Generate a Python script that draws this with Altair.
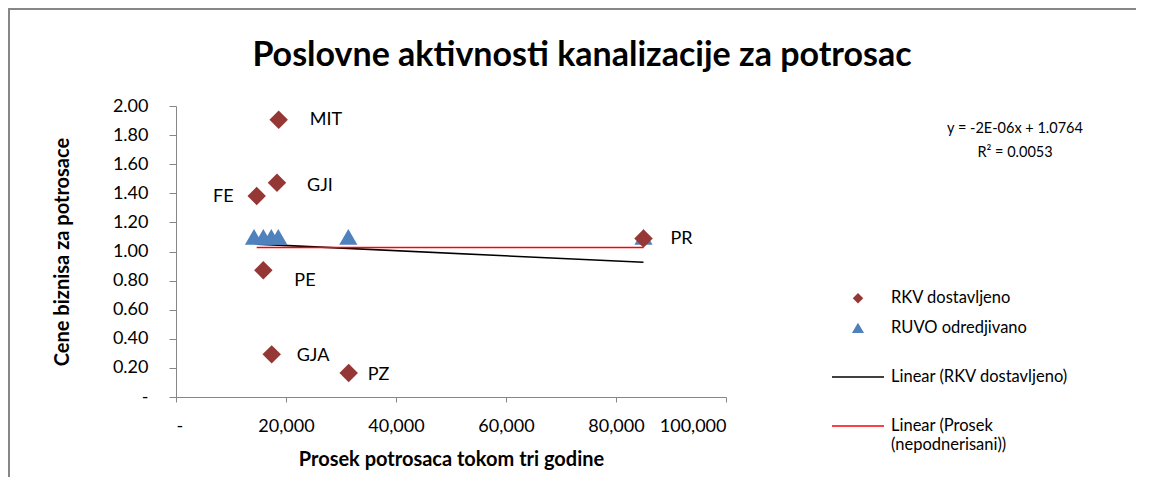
import altair as alt
import pandas as pd

# ---- data ----
rkv_labels = ["MIT", "GJI", "FE", "PE", "GJA", "PZ", "PR"]
rkv_x = [18670, 18360, 14670, 15880, 17400, 31400, 85000]
rkv_y = [1.906, 1.473, 1.381, 0.871, 0.293, 0.165, 1.09]

ruvo_x = [14180, 15880, 17330, 18600, 31330, 85000]
ruvo_y = [1.10, 1.10, 1.10, 1.10, 1.10, 1.10]

prosek_x = [14670, 85000]
prosek_y = [1.028, 1.028]

x_ticks = [0, 20000, 40000, 60000, 80000, 100000]
y_ticks = [0, 0.2, 0.4, 0.6, 0.8, 1.0, 1.2, 1.4, 1.6, 1.8, 2.0]

series_names = ["RKV dostavljeno", "RUVO odredjivano",
                "Linear (RKV dostavljeno)", "Linear (Prosek (nepodnerisani))"]
series_colors = ["#953735", "#4F81BD", "#000000", "#FF0000"]
series_shapes = ["diamond", "triangle-up", "stroke", "stroke"]
series_legend_sizes = [70, 90, 2704, 2704]

title_text = "Poslovne aktivnosti kanalizacije za potrosac"
equation_lines = ["y = -2E-06x + 1.0764", "R² = 0.0053"]

# label placement (dx, dy, align) per RKV point
label_dx = [31, 30, -23, 31, 25, 19, 27]
label_dy = [0, 3, 1, 11, 2, 2, 1]
label_align = ["left", "left", "right", "left", "left", "left", "left"]

FONT = "Lato"

rkv = pd.DataFrame({"x": rkv_x, "y": rkv_y, "label": rkv_labels})
ruvo = pd.DataFrame({"x": ruvo_x, "y": ruvo_y})
prosek = pd.DataFrame({"x": prosek_x, "y": prosek_y})
legend_df = pd.DataFrame({"series": series_names})

W, H = 550, 291

xscale = alt.Scale(domain=[0, 100000], nice=False, zero=True)
yscale = alt.Scale(domain=[0, 2.0], nice=False)

xaxis = alt.Axis(values=x_ticks, grid=False, title="Prosek potrosaca tokom tri godine",
                 labelExpr="datum.value == 0 ? '-' : format(datum.value, ',d')",
                 domainColor="#868686", tickColor="#868686", tickSize=5,
                 labelPadding=15, labelFontSize=18, labelFont=FONT, labelColor="#000",
                 titleFont=FONT, titleFontSize=20, titleFontWeight="bold",
                 titleColor="#000", titlePadding=14)
yaxis = alt.Axis(values=y_ticks, grid=False, title="Cene biznisa za potrosace",
                 labelExpr="datum.value == 0 ? '-' : format(datum.value, '.2f')",
                 domainColor="#868686", tickColor="#868686", tickSize=7,
                 labelPadding=21, labelFontSize=18, labelFont=FONT, labelColor="#000",
                 titleFont=FONT, titleFontSize=20, titleFontWeight="bold",
                 titleColor="#000", titlePadding=40)

base_x = alt.X("x:Q", scale=xscale, axis=xaxis)
base_y = alt.Y("y:Q", scale=yscale, axis=yaxis)

border = alt.Chart(pd.DataFrame({"k": [0]})).mark_rect(
    fill=None, fillOpacity=0, stroke="#878787", strokeWidth=2
).encode(x=alt.value(-167), x2=alt.value(W + 600), y=alt.value(-97), y2=alt.value(H + 300))

rkv_trend = alt.Chart(rkv).transform_regression("x", "y").mark_line(
    color="#000000", strokeWidth=1.6
).encode(x=base_x, y=base_y)

prosek_line = alt.Chart(prosek).mark_line(color="#FF0000", strokeWidth=1.6).encode(
    x=base_x, y=base_y)

ruvo_pts = alt.Chart(ruvo).mark_point(
    shape="triangle-up", filled=True, size=330, color="#4F81BD", opacity=1
).encode(x=base_x, y=base_y)

rkv_pts = alt.Chart(rkv).mark_point(
    shape="diamond", filled=True, size=340, color="#953735", opacity=1
).encode(x=base_x, y=base_y)

label_layers = []
for i in range(len(rkv_labels)):
    sub = rkv.iloc[[i]]
    label_layers.append(
        alt.Chart(sub).mark_text(font=FONT, fontSize=18, color="#000",
                                 baseline="middle", align=label_align[i],
                                 dx=label_dx[i], dy=label_dy[i]).encode(
            x=base_x, y=base_y, text="label:N")
    )

LEG_EXPR = ("datum.label == 'Linear (Prosek (nepodnerisani))' ? "
            "['Linear (Prosek', '(nepodnerisani))'] : datum.label")


def leg():
    return alt.Legend(title=None, labelExpr=LEG_EXPR)


legend_layer = alt.Chart(legend_df).mark_point(filled=True, clip=True, opacity=1).encode(
    x=alt.value(-500), y=alt.value(-500),
    fill=alt.Fill("series:N", scale=alt.Scale(domain=series_names, range=series_colors),
                  legend=leg()),
    stroke=alt.Stroke("series:N", scale=alt.Scale(domain=series_names, range=series_colors),
                      legend=leg()),
    shape=alt.Shape("series:N", scale=alt.Scale(domain=series_names, range=series_shapes),
                    legend=leg()),
    size=alt.Size("series:N", scale=alt.Scale(type="ordinal", domain=series_names,
                                              range=series_legend_sizes),
                  legend=leg()),
)

eq_text = alt.Chart(pd.DataFrame({"t": [equation_lines]})).mark_text(
    font=FONT, fontSize=14.5, color="#000", align="center", baseline="top", lineHeight=24
).encode(x=alt.value(839), y=alt.value(16), text="t")

title_mark = alt.Chart(pd.DataFrame({"t": [title_text]})).mark_text(
    font=FONT, fontSize=34, fontWeight="bold", color="#000", align="center",
    baseline="middle"
).encode(x=alt.value(406), y=alt.value(-50), text="t")

chart = alt.layer(
    border, rkv_trend, prosek_line, ruvo_pts, rkv_pts, *label_layers, legend_layer,
    eq_text, title_mark
).properties(
    width=W, height=H,
    background="white",
    autosize=alt.AutoSizeParams(type="none"),
    padding={"left": 168, "top": 98, "right": 410, "bottom": 80},
).configure_view(stroke=None).configure_legend(
    orient="none", legendX=655, legendY=184, labelFont=FONT, labelFontSize=16.5,
    labelColor="#000", symbolStrokeWidth=1.5, rowPadding=13, labelOffset=6,
    labelLimit=300,
)

chart.save("out.html", embed_options={"renderer": "svg", "actions": False})
